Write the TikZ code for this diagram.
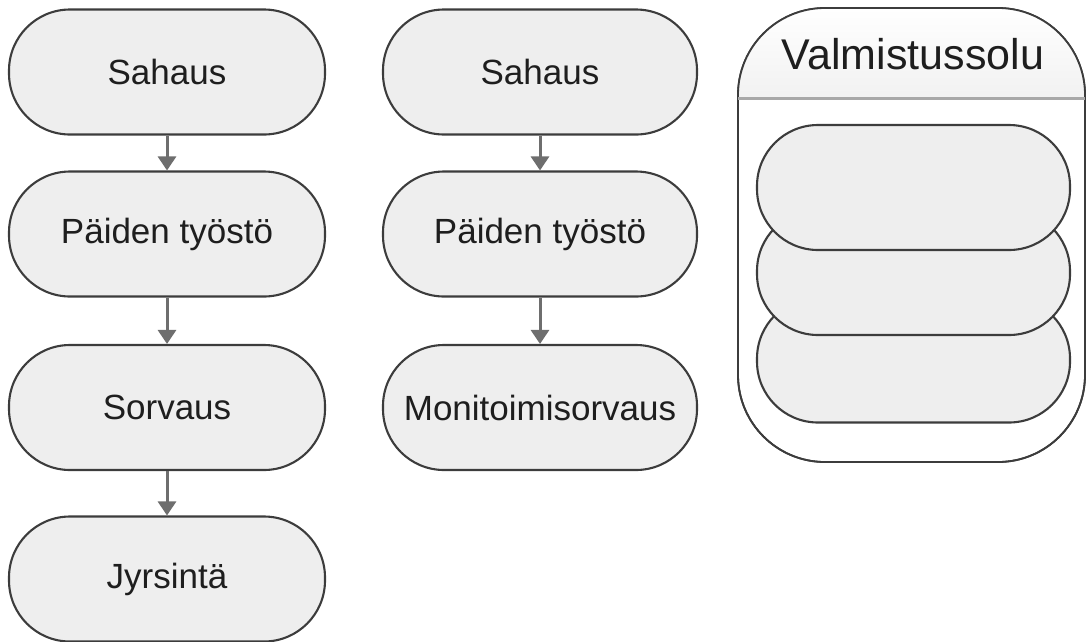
\documentclass[tikz,border=0pt]{standalone}
\usepackage{fontspec}
\setmainfont{Liberation Sans}
\usetikzlibrary{arrows.meta}
\definecolor{nodefill}{HTML}{EEEEEE}
\definecolor{edgecol}{HTML}{3C3C3C}
\definecolor{arrowcol}{HTML}{6E6E6E}
\definecolor{txtcol}{HTML}{1E1E1E}
\definecolor{hdrline}{HTML}{A8A8A8}
\tikzset{
  pill/.style={draw=edgecol, line width=2.1pt, fill=nodefill, rounded corners=61,
    minimum height=125, text=txtcol, inner sep=0pt,
    font=\fontsize{35}{40}\selectfont},
  lcol/.style={pill, minimum width=316},
  mcol/.style={pill, minimum width=314},
  rcol/.style={pill, minimum width=313},
  flow/.style={draw=arrowcol, line width=3pt, -{Triangle[width=18pt,length=14pt]}},
  cellbox/.style={draw=edgecol, line width=1.8pt, fill=white, rounded corners=87,
    minimum width=347, minimum height=454, inner sep=0pt},
}
\begin{document}
\begin{tikzpicture}[x=1pt,y=-1pt]
\useasboundingbox (0,0) rectangle (1087,641);
% left column
\node[lcol] (l1) at (167,72) {Sahaus};
\node[lcol] (l2) at (167,234) {Päiden työstö};
\node[lcol] (l3) at (167,407.5) {Sorvaus};
\node[lcol] (l4) at (167,579) {Jyrsintä};
\draw[flow] (l1.south) -- (l2.north);
\draw[flow] (l2.south) -- (l3.north);
\draw[flow] (l3.south) -- (l4.north);
% middle column
\node[mcol] (m1) at (540,72) {Sahaus};
\node[mcol] (m2) at (540,234) {Päiden työstö};
\node[mcol] (m3) at (540,407.5) {Monitoimisorvaus};
\draw[flow] (m1.south) -- (m2.north);
\draw[flow] (m2.south) -- (m3.north);
% manufacturing cell container
\node[cellbox] (cell) at (911.5,235) {};
\begin{scope}
  \clip[rounded corners=87] (738,8) rectangle (1085,462);
  \shade[top color=white, bottom color=nodefill!80] (738,8) rectangle (1085,98);
\end{scope}
\draw[draw=edgecol, line width=1.8pt, rounded corners=87] (738,8) rectangle (1085,462);
\coordinate (hl) at (738,98);
\coordinate (hr) at (1085,98);
\draw[hdrline, line width=3pt] (hl) -- (hr);
\node[text=txtcol, font=\fontsize{43}{48}\selectfont, inner sep=0pt] (title) at (913,54) {Valmistussolu};
% stacked inner nodes (bottom drawn first)
\node[rcol] (r3) at (913.5,360) {};
\node[rcol] (r2) at (913.5,272.5) {};
\node[rcol] (r1) at (913.5,187.5) {};
\end{tikzpicture}
\end{document}
